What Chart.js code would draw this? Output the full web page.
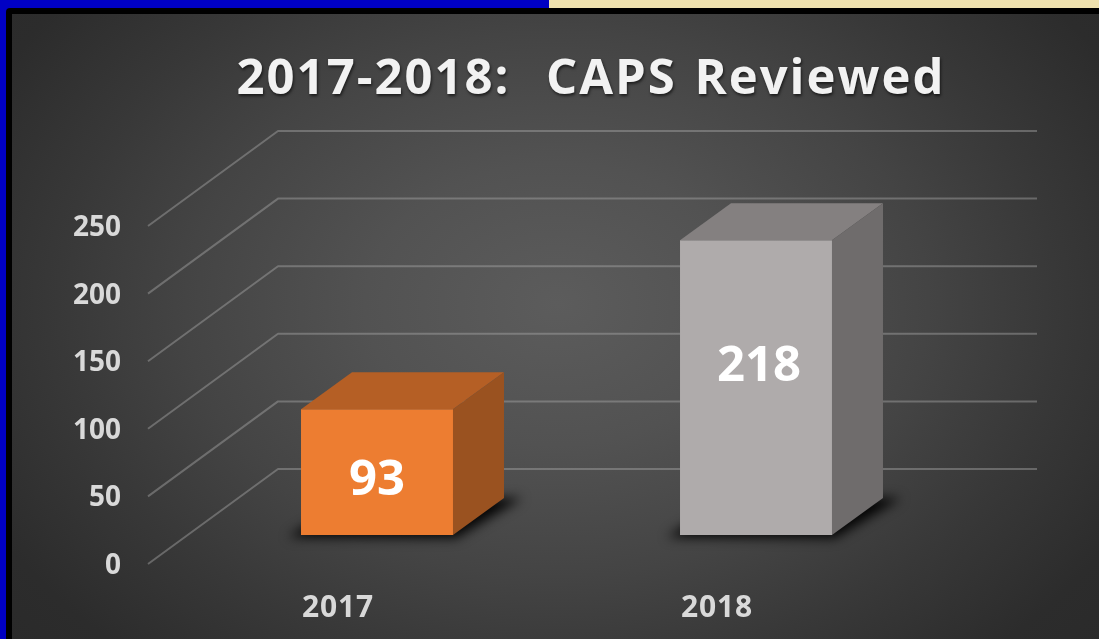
<!DOCTYPE html>
<html><head><meta charset="utf-8">
<style>
html,body{margin:0;padding:0;width:1099px;height:639px;overflow:hidden;background:#000}
#blue{position:absolute;left:0;top:0;width:1099px;height:639px;background:#0000c4}
#cream{position:absolute;left:549px;top:0;width:550px;height:8px;background:#efe1ae}
#black{position:absolute;left:6px;top:8px;width:1093px;height:631px;background:#000;border-top-left-radius:4px}
#panel{position:absolute;left:12px;top:14px;width:1087px;height:625px;
background:radial-gradient(ellipse 640px 470px at 545px 290px,#5c5c5c 0%,#525252 30%,#444 58%,#383838 78%,#2c2c2c 100%,#292929 120%)}
#wrap{position:absolute;left:0;top:0;width:1099px;height:639px}
canvas{display:block}
</style>
<script src="https://cdn.jsdelivr.net/npm/chart.js@4"></script>
</head><body>
<div id="blue"></div><div id="cream"></div><div id="black"></div><div id="panel"></div>
<div id="wrap"><canvas id="c" width="1099" height="639"></canvas></div>
<script>
const titleText = '2017-2018:  CAPS Reviewed';
const categories = ['2017', '2018'];
const caps = [93, 218];
const tickStep = 50;
const axisMax = 250;
const frontColors = ['#ED7D31', '#AFABAB'];
const topColors = ['#B55F25', '#848080'];
const sideColors = ['#9A5220', '#6F6C6C'];

const DX = 51, DY = 37;
const FONT = '"Open Sans", sans-serif';

const plot3d = {
  id: 'plot3d',
  beforeDatasetsDraw(chart) {
    const ctx = chart.ctx, y = chart.scales.y, meta = chart.getDatasetMeta(0);
    const backOff = -66, frontOff = 29, backL = 278, backR = 1037, frontL = 148;
    ctx.save();
    ctx.strokeStyle = 'rgba(175,175,175,0.42)';
    ctx.lineWidth = 2;
    ctx.lineJoin = 'round';
    y.ticks.forEach(t => {
      const p = y.getPixelForValue(t.value);
      ctx.beginPath();
      ctx.moveTo(frontL, p + frontOff);
      ctx.lineTo(backL, p + backOff);
      ctx.lineTo(backR, p + backOff);
      ctx.stroke();
    });
    ctx.restore();
    meta.data.forEach(el => {
      const l = el.x - el.width / 2, r = el.x + el.width / 2, b = el.base;
      ctx.save();
      ctx.filter = 'blur(6px)';
      ctx.fillStyle = 'rgba(0,0,0,0.95)';
      ctx.beginPath();
      ctx.moveTo(l - 13, b + 2);
      ctx.lineTo(r + 3, b + 3);
      ctx.lineTo(r + DX + 18, b - DY);
      ctx.lineTo(l + DX, b - DY);
      ctx.closePath();
      ctx.fill();
      ctx.restore();
    });
  },
  afterDatasetsDraw(chart) {
    const ctx = chart.ctx, meta = chart.getDatasetMeta(0);
    meta.data.forEach((el, i) => {
      const l = el.x - el.width / 2, r = el.x + el.width / 2, t = el.y, b = el.base;
      ctx.save();
      ctx.fillStyle = topColors[i];
      ctx.beginPath();
      ctx.moveTo(l, t); ctx.lineTo(l + DX, t - DY); ctx.lineTo(r + DX, t - DY); ctx.lineTo(r, t);
      ctx.closePath(); ctx.fill();
      ctx.fillStyle = sideColors[i];
      ctx.beginPath();
      ctx.moveTo(r, t); ctx.lineTo(r + DX, t - DY); ctx.lineTo(r + DX, b - DY); ctx.lineTo(r, b);
      ctx.closePath(); ctx.fill();
      ctx.restore();
    });
  },
  afterDraw(chart) {
    const ctx = chart.ctx, y = chart.scales.y, x = chart.scales.x, meta = chart.getDatasetMeta(0);
    ctx.save();
    ctx.textBaseline = 'middle';
    // title
    ctx.save();
    ctx.font = 'bold 49px ' + FONT;
    ctx.letterSpacing = '2px';
    ctx.wordSpacing = '3px';
    ctx.textAlign = 'center';
    ctx.fillStyle = '#f2f2f2';
    ctx.shadowColor = 'rgba(0,0,0,0.6)';
    ctx.shadowBlur = 3; ctx.shadowOffsetX = 1; ctx.shadowOffsetY = 2;
    ctx.fillText(titleText, 591, 80);
    ctx.restore();
    // value axis
    ctx.font = 'bold 28px ' + FONT;
    ctx.fillStyle = '#d9d9d9';
    ctx.textAlign = 'right';
    y.ticks.forEach(t => ctx.fillText(t.label, 121, y.getPixelForValue(t.value) + 31));
    // category axis
    ctx.save();
    ctx.font = 'bold 30px ' + FONT;
    ctx.letterSpacing = '0.8px';
    ctx.textAlign = 'center';
    categories.forEach((c, i) => ctx.fillText(c, x.getPixelForValue(i) - 39, 608));
    ctx.restore();
    // data labels
    ctx.font = 'bold 49px ' + FONT;
    ctx.fillStyle = '#ffffff';
    ctx.textAlign = 'center';
    meta.data.forEach((el, i) => {
      const h = el.base - el.y;
      ctx.fillText(String(caps[i]), el.x + (i ? 3 : 0), el.y + 2 + h * (i ? 0.424 : 0.555));
    });
    ctx.restore();
  }
};

new Chart(document.getElementById('c'), {
  type: 'bar',
  data: {
    labels: categories,
    datasets: [{
      label: 'CAPS Reviewed',
      data: caps,
      backgroundColor: frontColors,
      borderWidth: 0,
      barPercentage: 1,
      categoryPercentage: 0.401
    }]
  },
  options: {
    responsive: false,
    animation: false,
    layout: { padding: { left: 187.5, right: 153.5, top: 197, bottom: 104 } },
    plugins: { legend: { display: false }, title: { display: false }, tooltip: { enabled: false } },
    scales: {
      x: { display: false },
      y: { display: false, min: 0, max: axisMax, ticks: { stepSize: tickStep } }
    }
  },
  plugins: [plot3d]
});
</script>
</body></html>
